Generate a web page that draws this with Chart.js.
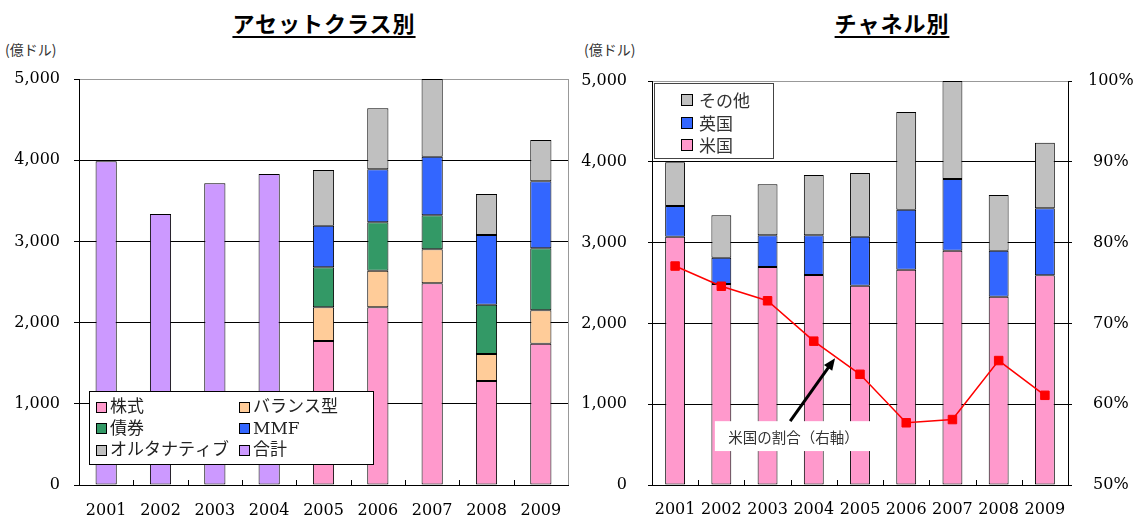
<!DOCTYPE html>
<html lang="ja">
<head>
<meta charset="utf-8">
<title>アセットクラス別 / チャネル別</title>
<script src="https://cdn.jsdelivr.net/npm/chart.js@4.4.1/dist/chart.umd.min.js"></script>
<style>
  html, body { margin: 0; padding: 0; background: #fff; }
  body { width: 1138px; height: 518px; position: relative; overflow: hidden; font-family: 'Noto Sans CJK JP', sans-serif; }
  .title { position: absolute; top: 6px; font-size: 22px; font-weight: bold; text-decoration: underline; text-underline-offset: 4px; transform: translateX(-50%); white-space: nowrap; letter-spacing: 1px; color: #000; }
  .unit { position: absolute; top: 39px; font-size: 14px; color: #333; }
  canvas { position: absolute; top: 0; }
</style>
</head>
<body>
<div class="title" style="left:324px">アセットクラス別</div>
<div class="title" style="left:892px">チャネル別</div>
<div class="unit" style="left:5px">(億ドル)</div>
<div class="unit" style="left:584px">(億ドル)</div>
<canvas id="assetChart" width="580" height="518" style="left:0"></canvas>
<canvas id="channelChart" width="563" height="518" style="left:575px"></canvas>
<script>
const years = ['2001', '2002', '2003', '2004', '2005', '2006', '2007', '2008', '2009'];

// アセットクラス別 (億ドル)
const stocks   = [null, null, null, null, 1773, 2188, 2484, 1281, 1740];
const balanced = [null, null, null, null, 415, 451, 419, 332, 411];
const bonds    = [null, null, null, null, 493, 596, 418, 607, 764];
const mmf      = [null, null, null, null, 512, 653, 722, 859, 825];
const alts     = [null, null, null, null, 686, 751, 957, 505, 509];
const totals   = [3986, 3337, 3715, 3830, null, null, null, null, null];

// チャネル別 (億ドル)
const usFunds    = [3073, 2488, 2698, 2599, 2467, 2665, 2900, 2330, 2595];
const ukFunds    = [380, 325, 392, 491, 606, 742, 887, 570, 829];
const otherFunds = [541, 525, 632, 747, 788, 1209, 1213, 689, 812];
// 米国の割合 (%)
const usShare    = [77.1, 74.6, 72.8, 67.8, 63.7, 57.7, 58.1, 65.4, 61.1];

const amountTicks = [0, 1000, 2000, 3000, 4000, 5000];
const shareTicks  = [50, 60, 70, 80, 90, 100];

Chart.defaults.font.family = "'DejaVu Serif', serif";
Chart.defaults.font.size = 16;
Chart.defaults.color = '#000';

function barStyle(pct) {
    return { borderColor: '#000', borderWidth: 1, borderSkipped: false, barPercentage: pct, categoryPercentage: 1, order: 1 };
}

// legend drawn inside the plot, like the original
const boxLegend = {
    id: 'boxLegend',
    afterDraw(chart, args, o) {
        const ctx = chart.ctx;
        let items = chart.data.datasets.filter(d => d.type !== 'line');
        if (o.reverse) items = items.slice().reverse();
        ctx.save();
        ctx.fillStyle = '#fff';
        ctx.fillRect(o.x, o.y, o.w, o.h);
        ctx.strokeStyle = o.borderColor;
        ctx.lineWidth = 1;
        ctx.strokeRect(o.x + 0.5, o.y + 0.5, o.w, o.h);
        ctx.font = o.textFont;
        ctx.textBaseline = 'middle';
        items.forEach((ds, k) => {
            const col = k % o.cols, row = Math.floor(k / o.cols);
            const sx = o.x + o.padX + col * o.colW;
            const sy = o.y + o.firstRow + row * o.rowH;
            ctx.fillStyle = ds.backgroundColor;
            ctx.fillRect(sx, Math.round(sy - o.box / 2), o.box, o.box);
            ctx.strokeStyle = '#000';
            ctx.strokeRect(sx + 0.5, Math.round(sy - o.box / 2) + 0.5, o.box - 1, o.box - 1);
            ctx.fillStyle = o.color;
            ctx.fillText(ds.label, sx + o.box + o.gap, sy + 1);
        });
        ctx.restore();
    }
};

// small inward ticks between categories + optional right frame line
const plotFrame = {
    id: 'plotFrame',
    afterDatasetsDraw(chart, args, o) {
        const { ctx, chartArea: a } = chart;
        const n = chart.data.labels.length;
        const step = (a.right - a.left) / n;
        ctx.save();
        ctx.strokeStyle = '#000';
        ctx.lineWidth = 1;
        ctx.beginPath();
        for (let i = 1; i < n; i++) {
            const px = Math.round(a.left + i * step) + 0.5;
            ctx.moveTo(px, a.bottom);
            ctx.lineTo(px, a.bottom - 5);
        }
        ctx.stroke();
        if (o.rightColor) {
            ctx.strokeStyle = o.rightColor;
            ctx.beginPath();
            ctx.moveTo(Math.round(a.right) + 0.5, a.top);
            ctx.lineTo(Math.round(a.right) + 0.5, a.bottom);
            ctx.stroke();
        }
        ctx.restore();
    }
};

// "米国の割合（右軸）" label with arrow, placed in data units
const shareNote = {
    id: 'shareNote',
    afterDraw(chart, args, o) {
        const xs = chart.scales.x, ys = chart.scales.y1, ctx = chart.ctx;
        const l = xs.getPixelForValue(o.boxLeft), r = xs.getPixelForValue(o.boxRight);
        const t = ys.getPixelForValue(o.boxTop), b = ys.getPixelForValue(o.boxBottom);
        ctx.save();
        ctx.fillStyle = '#fff';
        ctx.fillRect(l, t, r - l, b - t);
        ctx.fillStyle = '#333';
        ctx.font = "14.5px 'Noto Sans CJK JP'";
        ctx.textAlign = 'center';
        ctx.textBaseline = 'middle';
        ctx.fillText(o.text, (l + r) / 2, (t + b) / 2 + 1);
        const x0 = xs.getPixelForValue(o.tailX), y0 = ys.getPixelForValue(o.tailY);
        const x1 = xs.getPixelForValue(o.tipX), y1 = ys.getPixelForValue(o.tipY);
        const ang = Math.atan2(y1 - y0, x1 - x0);
        const head = 13;
        ctx.strokeStyle = '#000';
        ctx.lineWidth = 3;
        ctx.beginPath();
        ctx.moveTo(x0, y0);
        ctx.lineTo(x1 - Math.cos(ang) * head * 0.8, y1 - Math.sin(ang) * head * 0.8);
        ctx.stroke();
        ctx.fillStyle = '#000';
        ctx.beginPath();
        ctx.moveTo(x1, y1);
        ctx.lineTo(x1 - head * Math.cos(ang - 0.4), y1 - head * Math.sin(ang - 0.4));
        ctx.lineTo(x1 - head * Math.cos(ang + 0.4), y1 - head * Math.sin(ang + 0.4));
        ctx.closePath();
        ctx.fill();
        ctx.restore();
    }
};

const amountAxis = (width, pad, tickLen) => ({
    stacked: true,
    min: 0,
    max: 5000,
    afterBuildTicks: s => { s.ticks = amountTicks.map(v => ({ value: v })); },
    grid: { color: c => (c.tick && c.tick.value === 5000 ? '#999' : '#000'), tickColor: '#000', tickLength: tickLen },
    border: { color: '#000' },
    ticks: { padding: pad, callback: v => v.toLocaleString('en-US') },
    afterFit: s => { s.width = width; }
});

const yearAxis = pad => ({
    stacked: true,
    grid: { display: false, drawTicks: false },
    border: { color: '#000' },
    ticks: { padding: pad, maxRotation: 0, autoSkip: false },
    afterFit: s => { s.height = 33; }
});

new Chart(document.getElementById('assetChart'), {
    type: 'bar',
    data: {
        labels: years,
        datasets: [
            { label: '株式', data: stocks, backgroundColor: '#FF99CC' },
            { label: 'バランス型', data: balanced, backgroundColor: '#FFCC99' },
            { label: '債券', data: bonds, backgroundColor: '#339966' },
            { label: 'MMF', data: mmf, backgroundColor: '#3366FF' },
            { label: 'オルタナティブ', data: alts, backgroundColor: '#C0C0C0' },
            { label: '合計', data: totals, backgroundColor: '#CC99FF' }
        ].map(d => Object.assign(d, barStyle(0.39)))
    },
    options: {
        responsive: false,
        animation: false,
        layout: { padding: { top: 79, right: 12, left: 0, bottom: 0 } },
        scales: {
            x: yearAxis(16),
            y: amountAxis(79, 14, 5)
        },
        plugins: {
            legend: { display: false },
            tooltip: { enabled: false },
            boxLegend: {
                x: 89, y: 391, w: 284, h: 73, cols: 2, colW: 143, padX: 7, firstRow: 16, rowH: 21.5,
                box: 11, gap: 3, textFont: "17px 'DejaVu Serif', 'Noto Sans CJK JP'", color: '#222', borderColor: '#000', reverse: false
            },
            plotFrame: { rightColor: '#999' }
        }
    },
    plugins: [boxLegend, plotFrame]
});

new Chart(document.getElementById('channelChart'), {
    type: 'bar',
    data: {
        labels: years,
        datasets: [
            {
                type: 'line', label: '米国の割合', data: usShare, yAxisID: 'y1', order: 0,
                borderColor: '#FF0000', backgroundColor: '#FF0000', borderWidth: 1.5,
                pointStyle: 'rect', pointRadius: 6, pointBorderWidth: 1, tension: 0
            },
            Object.assign({ label: '米国', data: usFunds, backgroundColor: '#FF99CC' }, barStyle(0.43)),
            Object.assign({ label: '英国', data: ukFunds, backgroundColor: '#3366FF' }, barStyle(0.43)),
            Object.assign({ label: 'その他', data: otherFunds, backgroundColor: '#C0C0C0' }, barStyle(0.43))
        ]
    },
    options: {
        responsive: false,
        animation: false,
        layout: { padding: { top: 81, right: 0, left: 0, bottom: 0 } },
        scales: {
            x: yearAxis(15),
            y: amountAxis(77, 21, 4),
            y1: {
                position: 'right',
                min: 50,
                max: 100,
                afterBuildTicks: s => { s.ticks = shareTicks.map(v => ({ value: v })); },
                grid: { drawOnChartArea: false, tickColor: '#000', tickLength: 4 },
                border: { color: '#000' },
                ticks: { padding: 16, crossAlign: 'center', callback: v => v + '%' },
                afterFit: s => { s.width = 70; }
            }
        },
        plugins: {
            legend: { display: false },
            tooltip: { enabled: false },
            boxLegend: {
                x: 79, y: 83, w: 119, h: 75, cols: 1, colW: 0, padX: 27, firstRow: 17, rowH: 22.5,
                box: 12, gap: 6, textFont: "17px 'Noto Sans CJK JP'", color: '#333', borderColor: '#444', reverse: true
            },
            plotFrame: {},
            shareNote: {
                text: '米国の割合（右軸）',
                boxLeft: 0.86, boxRight: 4.26, boxTop: 57.9, boxBottom: 54.2,
                tailX: 2.49, tailY: 57.9, tipX: 3.46, tipY: 65.7
            }
        }
    },
    plugins: [boxLegend, plotFrame, shareNote]
});
</script>
</body>
</html>
